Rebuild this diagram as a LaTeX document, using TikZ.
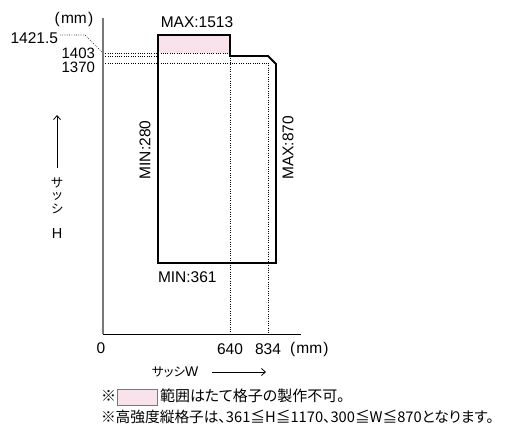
\documentclass[tikz,border=0pt]{standalone}
\usepackage{fontspec}
\setmainfont{Liberation Sans}
\newfontfamily\jp{Noto Sans CJK JP}
\newfontfamily\jpp[RawFeature=+palt]{Noto Sans CJK JP}
\usetikzlibrary{arrows.meta}
\definecolor{pinkfill}{RGB}{250,226,236}
\definecolor{axisgray}{RGB}{120,120,120}
\begin{document}
\begin{tikzpicture}[x=1pt,y=-1pt,
  every node/.style={inner sep=0pt,outer sep=0pt},
  lbl/.style={font=\fontsize{15.5}{16}\selectfont},
  jtxt/.style={font=\jpp\fontsize{15}{16}\selectfont},
  jsmall/.style={font=\jpp\fontsize{12.5}{13}\selectfont},
  outline/.style={draw=black,line width=1.8pt,line join=miter},
  guide/.style={line width=0.7pt,dash pattern=on 0.7pt off 1.6pt},
  arr/.style={line width=0.8pt,-{Straight Barb[length=4pt,width=7pt]}}]
\useasboundingbox (0,0) rectangle (505,433);
% pink region
\fill[pinkfill] (158,35) rectangle (230,53);
% guide lines
\coordinate (yA) at (103,53);
\coordinate (yB) at (103,56);
\coordinate (yC) at (103,63);
\draw[guide] (yA) -- (230,53);
\draw[guide] (yB) -- (158,56);
\draw[guide] (yC) -- (268,63);
\draw[guide] (230,53) -- (230,334);
\draw[guide] (268,63) -- (268,334);
\draw[guide] (60,35) -- (85,35) -- (yA);
% outline
\draw[outline] (158,35) -- (230,35) -- (230,56) -- (268,56) -- (276,64) -- (276,263) -- (158,263) -- cycle;
% axes
\coordinate (org) at (103,334);
\draw[axisgray,line width=1.3pt] (103,18) -- (org);
\draw[black,line width=1pt] (org) -- (301,334);
% labels
\node[lbl] (mmT) at (74,19) {(\kern1.2pt mm\kern1.2pt)};
\node[lbl,anchor=east] (l1421) at (58,38) {1421.5};
\node[lbl,anchor=east,font=\fontsize{15}{15}\selectfont] (l1403) at (95,53.5) {1403};
\node[lbl,anchor=east,font=\fontsize{15}{15}\selectfont] (l1370) at (95,67.5) {1370};
\node[lbl] (max1513) at (197,22) {MAX:1513};
\node[lbl,rotate=90] (min280) at (145,150) {MIN:280};
\node[lbl,rotate=90] (max870) at (288,148) {MAX:870};
\node[lbl,anchor=west] (min361) at (158,277) {MIN:361};
\node[lbl] (zero) at (101,348) {0};
\node[lbl] (x640) at (230,349) {640};
\node[lbl] (x834) at (268,349) {834};
\node[lbl,anchor=west] (mmB) at (290,349) {(\kern1.2pt mm\kern1.2pt)};
% axis titles
\node[jsmall,anchor=west] (sashW) at (152,372) {サッシ\fontspec{Liberation Sans}\fontsize{14}{14}\selectfont W};
\coordinate (wA) at (212,372);
\coordinate (wB) at (266,372);
\draw[arr] (wA) -- (wB);
\coordinate (hA) at (57,168);
\coordinate (hB) at (57,115);
\draw[arr] (hA) -- (hB);
\node[jsmall] (sa) at (57,182.5) {サ};
\node[jsmall,font=\jp\fontsize{12.5}{13}\selectfont] (tsu) at (57,196.5) {ッ};
\node[jsmall] (shi) at (57,209) {シ};
\node[lbl,font=\fontsize{14.5}{15}\selectfont] (H) at (57,234) {H};
% notes
\node[jtxt,anchor=west] (kome1) at (101,396) {※};
\node[draw=axisgray,line width=0.6pt,fill=pinkfill,minimum width=40pt,minimum height=16pt] (notebox) at (137,397) {};
\node[jtxt,anchor=west] (note1) at (160,396) {範囲はたて格子の製作不可。};
\node[jtxt,anchor=west,font=\jpp\fontsize{14.7}{16}\selectfont] (note2) at (101,417) {※高強度縦格子は、361≦H≦1170、300≦W≦870となります。};
\end{tikzpicture}
\end{document}
